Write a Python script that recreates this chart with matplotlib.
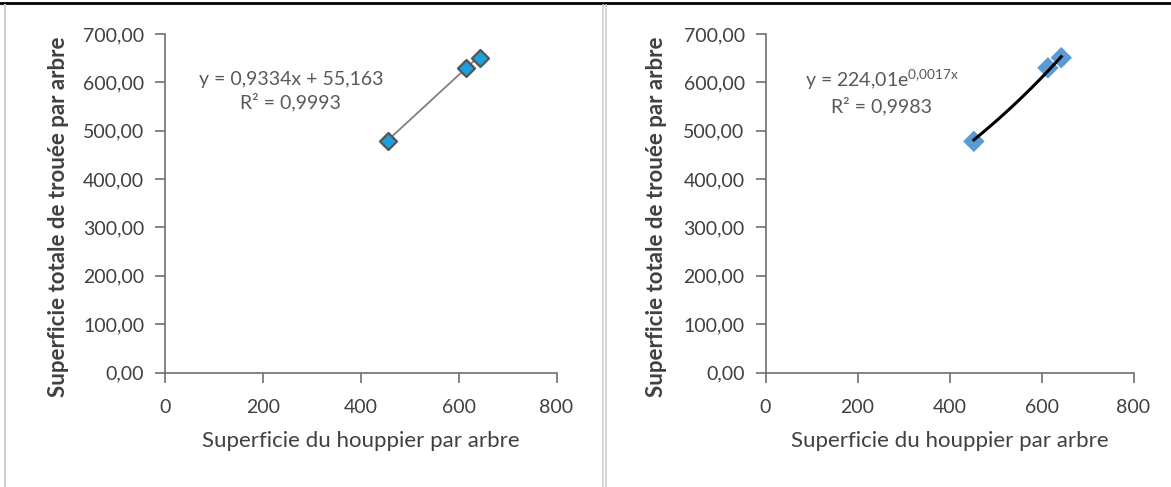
import numpy as np
import matplotlib
matplotlib.use("Agg")
import matplotlib.pyplot as plt
from matplotlib.lines import Line2D

plt.rcParams['font.family'] = ['Lato', 'DejaVu Sans']
plt.rcParams['mathtext.fontset'] = 'custom'
plt.rcParams['mathtext.rm'] = 'Lato'

# Data
x_left = [455, 615, 643]
y_left = [478, 630, 651]
x_right = [453, 614, 643]
y_right = [478, 630, 651]
lin_slope, lin_inter = 0.9334, 55.163
# exponential trend as drawn in the picture (start ~481, end ~653)
exp_a, exp_b = 232.0, 0.00161
eq_left = "y = 0,9334x + 55,163\nR² = 0,9993"
eq_right = "y = 224,01e$^{\\mathregular{0{,}0017x}}$\nR² = 0,9983"
xticks = [0, 200, 400, 600, 800]
yticks = [0, 100, 200, 300, 400, 500, 600, 700]
ytick_labels = ["0,00", "100,00", "200,00", "300,00", "400,00", "500,00", "600,00", "700,00"]
xlabel = "Superficie du houppier par arbre"
ylabel = "Superficie totale de trouée par arbre"

W, H = 1171, 487
fig = plt.figure(figsize=(W / 100, H / 100), dpi=100)

def box(x0, x1, ytop, ybot):
    return [x0 / W, 1 - ybot / H, (x1 - x0) / W, (ybot - ytop) / H]

axL = fig.add_axes(box(165, 556.5, 34, 372.5))
axR = fig.add_axes(box(765.5, 1133.5, 34, 372.5))

axis_col = "#707070"
text_col = "#404040"

for ax in (axL, axR):
    ax.set_xlim(0, 800)
    ax.set_ylim(0, 700)
    ax.set_xticks(xticks)
    ax.set_xticklabels([str(t) for t in xticks])
    ax.set_yticks(yticks)
    ax.set_yticklabels(ytick_labels)
    for s in ("top", "right"):
        ax.spines[s].set_visible(False)
    for s in ("left", "bottom"):
        ax.spines[s].set_color(axis_col)
        ax.spines[s].set_linewidth(1.2)
    ax.tick_params(axis="both", direction="out", length=7, width=1.2, color=axis_col,
                   labelsize=14, labelcolor=text_col)
    ax.tick_params(axis="x", pad=12)
    ax.tick_params(axis="y", pad=8)
    ax.set_xlabel(xlabel, fontsize=16, color=text_col, labelpad=11)
    ax.set_ylabel(ylabel, fontsize=16, fontweight="bold", color=text_col)
    ax.patch.set_alpha(0)

axL.yaxis.set_label_coords(-0.245, 0.46)
axR.yaxis.set_label_coords(-0.268, 0.46)

# Left: linear fit
xs = np.linspace(min(x_left), max(x_left), 50)
axL.plot(xs, lin_slope * xs + lin_inter, color="#808080", lw=1.3, zorder=2)
axL.scatter(x_left, y_left, marker="D", s=75, facecolor="#1ea0dc", edgecolor="#555555",
            linewidth=1.6, zorder=3)
axL.text(257, 582, eq_left, ha="center", va="center",
         fontsize=14, color="#595959", linespacing=1.3)

# Right: exponential fit
xs = np.linspace(min(x_right), max(x_right), 50)
axR.scatter(x_right, y_right, marker="D", s=120, facecolor="#5b9bd5", edgecolor="none", zorder=2)
axR.plot(xs, exp_a * np.exp(exp_b * xs), color="black", lw=2.2, zorder=3)
axR.text(253, 582, eq_right, ha="center", va="center",
         fontsize=14, color="#595959", linespacing=1.3)

# Frame lines
fig.add_artist(Line2D([0, 1], [1 - 3 / H, 1 - 3 / H], color="black", lw=2))
fig.add_artist(Line2D([5 / W, 5 / W], [0, 1 - 5 / H], color="#d0d0d0", lw=1.5))
fig.add_artist(Line2D([603 / W, 603 / W], [0, 1 - 5 / H], color="#d0d0d0", lw=1.2))
fig.add_artist(Line2D([606 / W, 606 / W], [0, 1 - 5 / H], color="#d0d0d0", lw=1.2))

fig.savefig("out.png", dpi=100, facecolor="white")
